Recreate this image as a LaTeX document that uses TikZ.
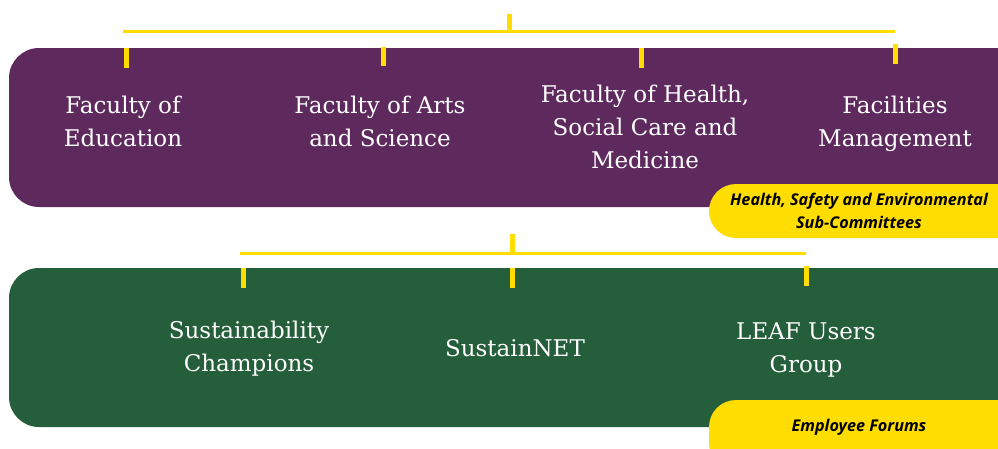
\documentclass[tikz,border=0pt]{standalone}
\usepackage{fontspec}
\setmainfont{DejaVu Serif}
\newfontfamily\pillfont{Open Sans}
\definecolor{plum}{HTML}{5E2A5E}
\definecolor{forest}{HTML}{245E3A}
\definecolor{gold}{HTML}{FFDD00}
\begin{document}
\begin{tikzpicture}[x=1pt,y=-1pt,
  panel/.style={rounded corners=30pt},
  unitlabel/.style={text=white,align=center,font=\fontsize{23}{33}\selectfont},
  pill/.style={fill=gold,rounded corners=27pt},
  pilltext/.style={text=black,align=center,font=\pillfont\bfseries\itshape\fontsize{16.2}{23}\selectfont},
  link/.style={draw=gold,line width=3pt},
  stub/.style={draw=gold,line width=5pt}]
\useasboundingbox (0,0) rectangle (998,448);
\clip (0,0) rectangle (998,448);

% upper panel: faculties
\fill[plum,panel] (9,48) rectangle (1040,207);
\node[unitlabel] (edu) at (123,121) {Faculty of\\Education};
\node[unitlabel] (arts) at (380,121) {Faculty of Arts\\and Science};
\node[unitlabel] (health) at (645,127) {Faculty of Health,\\Social Care and\\Medicine};
\node[unitlabel] (fm) at (895,124) {Facilities\\Management};

% upper bracket
\coordinate (topstem) at (509,14);
\coordinate (topbar) at (509,31);
\coordinate (tbl) at (123,31);
\coordinate (tbr) at (895,31);
\draw[link] (tbl) -- (tbr);
\draw[stub] (topstem) -- (topbar);
\coordinate (s1) at (126,48);
\coordinate (s2) at (383,47);
\coordinate (s3) at (641,48);
\coordinate (s4) at (895,44);
\draw[stub] (s1) -- ++(0,20);
\draw[stub] (s2) -- ++(0,19);
\draw[stub] (s3) -- ++(0,20);
\draw[stub] (s4) -- ++(0,20);

% committee tag
\fill[pill] (709,184) rectangle (1060,238);
\node[pilltext] (hse) at (859,211) {Health, Safety and Environmental\\Sub-Committees};

% lower panel: networks
\fill[forest,panel] (9,268) rectangle (1040,427);
\node[unitlabel] (champ) at (249,349) {Sustainability\\Champions};
\node[unitlabel] (snet) at (515,348) {SustainNET};
\node[unitlabel] (leaf) at (806,350) {LEAF Users\\Group};

% lower bracket
\coordinate (botstem) at (512,234);
\coordinate (botbar) at (512,253);
\coordinate (bbl) at (240,253);
\coordinate (bbr) at (806,253);
\draw[link] (bbl) -- (bbr);
\draw[stub] (botstem) -- (botbar);
\coordinate (t1) at (243,268);
\coordinate (t2) at (512,268);
\coordinate (t3) at (806,266);
\draw[stub] (t1) -- ++(0,20);
\draw[stub] (t2) -- ++(0,20);
\draw[stub] (t3) -- ++(0,20);

% forum tag
\fill[pill] (709,400) rectangle (1060,470);
\node[pilltext] (forums) at (859,427) {Employee Forums};
\end{tikzpicture}
\end{document}
